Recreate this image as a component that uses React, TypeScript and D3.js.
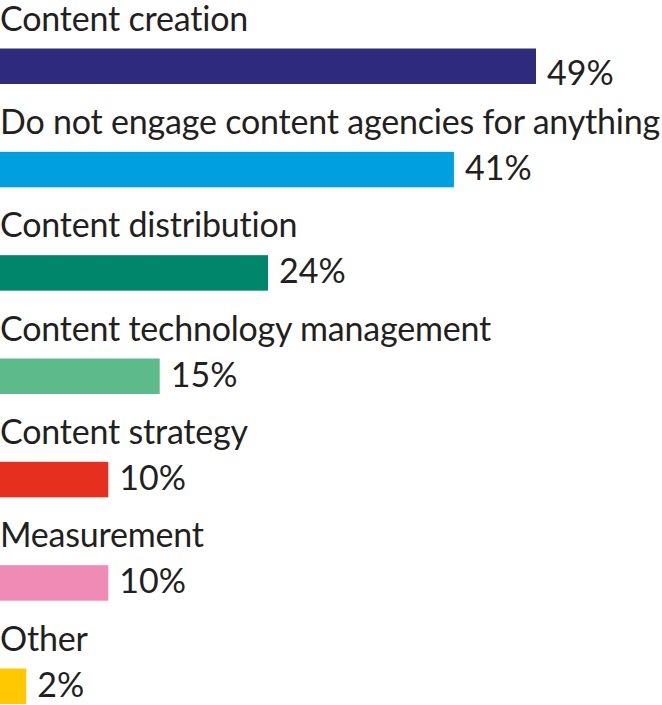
import React from "react";
import * as d3 from "d3";

const categories = [
  "Content creation",
  "Do not engage content agencies for anything",
  "Content distribution",
  "Content technology management",
  "Content strategy",
  "Measurement",
  "Other",
];
// bar lengths (percent)
const values = [49, 41.5, 24.5, 14.6, 9.9, 9.9, 2.4];
// printed value labels
const valueLabels = ["49%", "41%", "24%", "15%", "10%", "10%", "2%"];
const colors = ["#2E2B7D", "#009FE0", "#00866A", "#5DBA8B", "#E72F1F", "#F08BB6", "#FFC800"];

export default function App() {
  const W = 662;
  const H = 705;
  const x = d3.scaleLinear().domain([0, 49]).range([0, 536]);
  const y = d3
    .scaleLinear()
    .domain([0, values.length - 1])
    .range([48.5, 668.5]);
  const barH = 35.5;
  return (
    <svg
      width={W}
      height={H}
      style={{ position: "absolute", left: 0, top: 0 }}
      fontFamily="Lato, sans-serif"
    >
      {categories.map((c, i) => (
        <g key={c}>
          <text x={0} y={y(i) - 18} fontSize={34} letterSpacing={-0.2} fill="#231F20">
            {c}
          </text>
          <rect x={0} y={y(i)} width={x(values[i])} height={barH} fill={colors[i]} />
          <text
            x={x(values[i]) + 11}
            y={y(i) + barH - (i === 0 ? -1 : 7.5)}
            fontSize={34}
            fill="#231F20"
          >
            {valueLabels[i]}
          </text>
        </g>
      ))}
    </svg>
  );
}
